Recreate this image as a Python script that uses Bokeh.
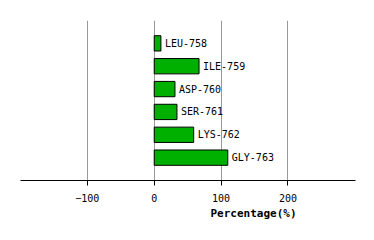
from bokeh.plotting import figure
from bokeh.models import Range1d, FactorRange, Title, FixedTicker
from bokeh.core.properties import value
from bokeh.embed import file_html
from bokeh.resources import INLINE

residues = ["LEU-758", "ILE-759", "ASP-760", "SER-761", "LYS-762", "GLY-763"]
percentages = [10, 67, 31, 34, 59, 110]
x_ticks = [-100, 0, 100, 200]
axis_title = "Percentage(%)"

factors = list(reversed(residues))

p = figure(width=374, height=240, output_backend="svg", toolbar_location=None,
           x_range=Range1d(-200, 301), y_range=FactorRange(*factors, range_padding=1/6),
           min_border_left=20, min_border_right=19, min_border_top=20, min_border_bottom=60)
p.outline_line_color = None
p.background_fill_color = "white"
p.border_fill_color = "white"

p.hbar(y=residues, right=percentages, left=0, height=0.67,
       fill_color="#00B000", line_color="black", line_width=1)
p.text(x=percentages, y=residues, text=residues, x_offset=4,
       text_baseline="middle", text_align="left",
       text_font=value("DejaVu Sans Mono"), text_font_size="10px", text_color="black")

p.yaxis.visible = False
p.ygrid.grid_line_color = None
p.xgrid.grid_line_color = "#999999"
p.xgrid.grid_line_width = 1

ax = p.xaxis[0]
ax.ticker = FixedTicker(ticks=x_ticks)
ax.axis_line_color = "black"
ax.major_tick_line_color = "black"
ax.major_tick_out = 5
ax.major_tick_in = 0
ax.minor_tick_line_color = None
ax.major_label_text_font = "DejaVu Sans Mono"
ax.major_label_text_font_size = "10px"
ax.major_label_text_color = "black"
ax.major_label_standoff = 8

t = Title(text=axis_title, align="left", offset=190,
          text_font="DejaVu Sans Mono", text_font_size="11px", text_font_style="bold",
          text_color="black", standoff=0)
p.add_layout(t, "below")

open("out.html", "w").write(file_html(p, INLINE))
